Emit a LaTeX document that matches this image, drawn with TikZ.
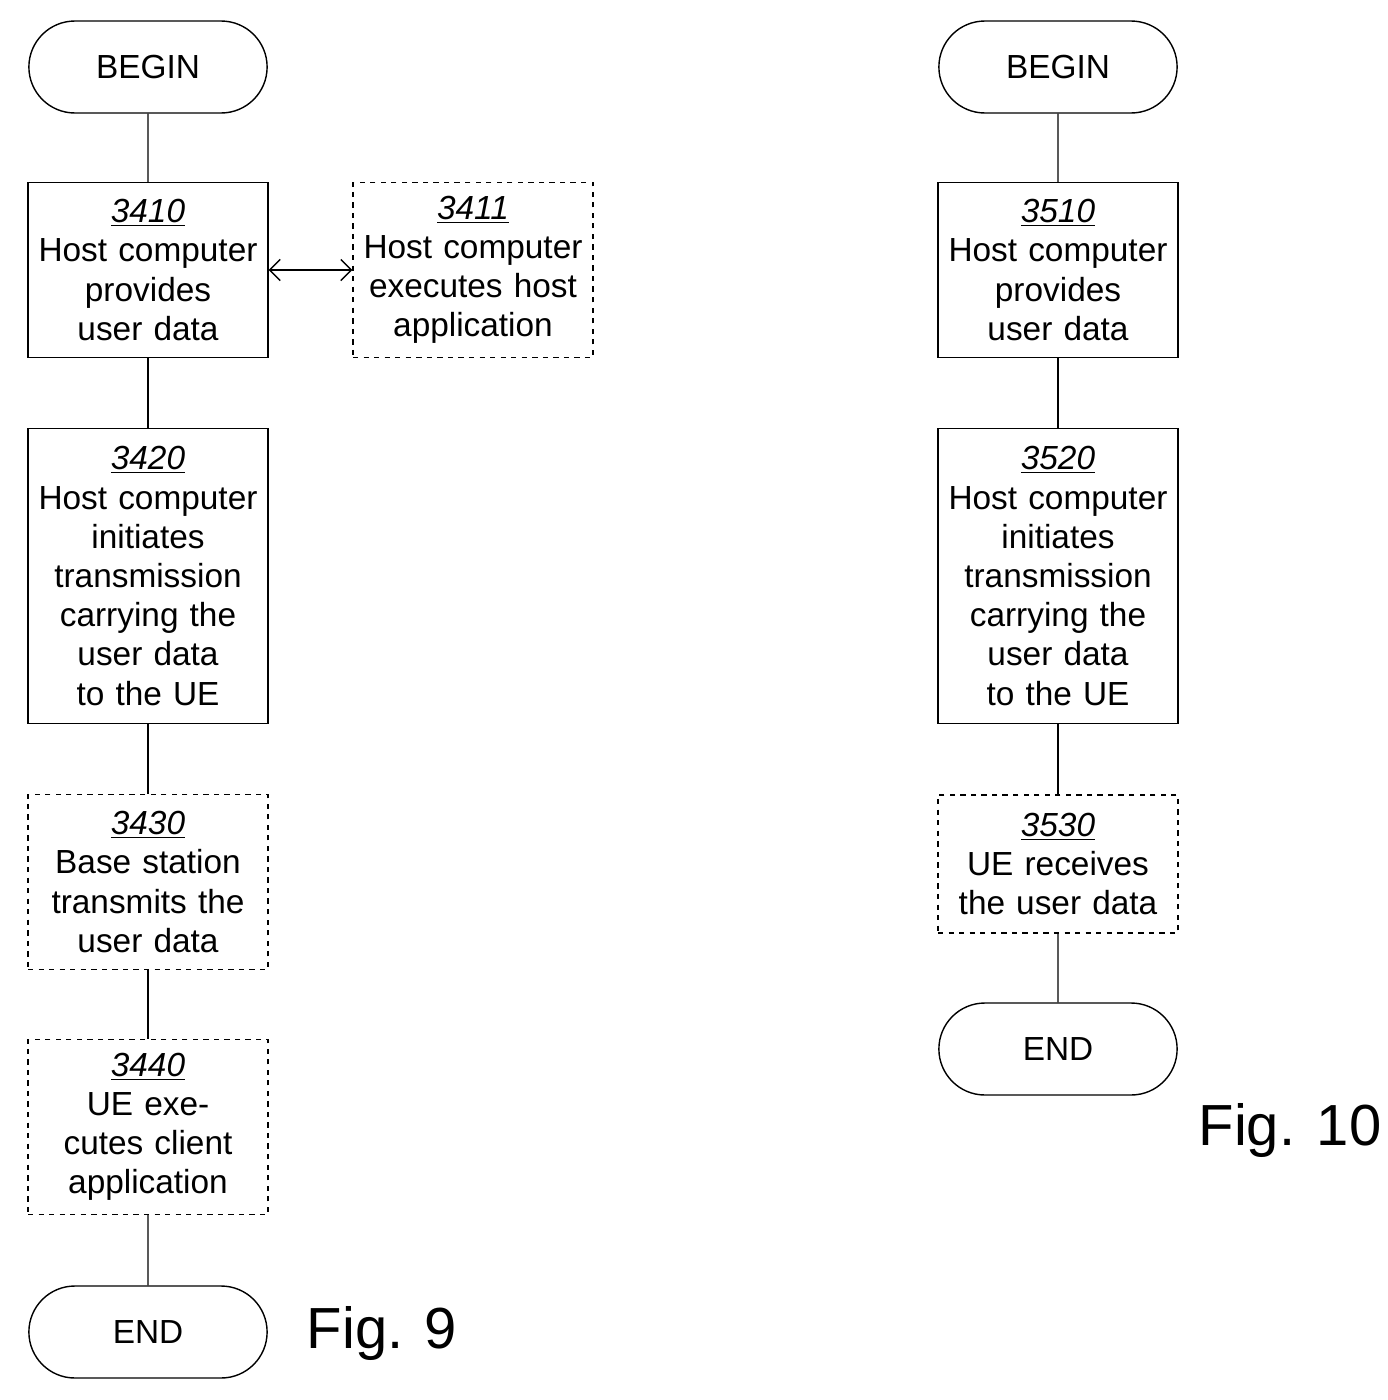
\documentclass[tikz,border=0pt]{standalone}
\usepackage{fontspec}
\setmainfont{Liberation Sans}
\usetikzlibrary{shapes.misc,arrows.meta}
\tikzset{
  flowstep/.style={draw, thick, rectangle, text width=4.8cm, align=center,
    inner sep=0pt, font=\fontsize{19pt}{22.3pt}\selectfont},
  optstep/.style={flowstep, dashed},
  term/.style={draw, thick, rounded rectangle, minimum width=5cm, minimum height=1.84cm,
    font=\fontsize{19pt}{22pt}\selectfont},
  figlabel/.style={font=\fontsize{33pt}{36pt}\selectfont}
}
\newcommand{\stepno}[1]{\underline{\textit{#1}}\\}
\begin{document}
\begin{tikzpicture}[x=0.02cm,y=-0.02cm]
  \useasboundingbox (0,0) rectangle (1387,1400);
  % Fig. 9
  \node[term] (b9) at (148,67) {BEGIN};
  \node[flowstep, minimum height=3.5cm] (s3410) at (148,270) {\stepno{3410}Host computer provides user data};
  \node[optstep, minimum height=3.5cm] (s3411) at (473,270) {\stepno{3411}Host computer executes host application};
  \node[flowstep, minimum height=5.9cm] (s3420) at (148,576) {\stepno{3420}Host computer initiates transmission carrying the user data to the UE};
  \node[optstep, minimum height=3.5cm] (s3430) at (148,882) {\stepno{3430}Base station transmits the user data};
  \node[optstep, minimum height=3.5cm] (s3440) at (148,1127) {\stepno{3440}UE executes client application};
  \node[term] (e9) at (148,1332) {END};
  \node[figlabel] (f9) at (382,1333) {Fig. 9};
  \draw[thick] (b9) -- (s3410);
  \draw[thick] (s3410) -- (s3420);
  \draw[thick] (s3420) -- (s3430);
  \draw[thick] (s3430) -- (s3440);
  \draw[thick] (s3440) -- (e9);
  \draw[thick, {Straight Barb[length=6pt]}-{Straight Barb[length=6pt]}] (s3410) -- (s3411);
  % Fig. 10
  \node[term] (b10) at (1058,67) {BEGIN};
  \node[flowstep, minimum height=3.5cm] (s3510) at (1058,270) {\stepno{3510}Host computer provides user data};
  \node[flowstep, minimum height=5.9cm] (s3520) at (1058,576) {\stepno{3520}Host computer initiates transmission carrying the user data to the UE};
  \node[optstep, minimum height=2.76cm] (s3530) at (1058,864) {\stepno{3530}UE receives the user data};
  \node[term] (e10) at (1058,1049) {END};
  \node[figlabel] (f10) at (1290,1130) {Fig. 10};
  \draw[thick] (b10) -- (s3510);
  \draw[thick] (s3510) -- (s3520);
  \draw[thick] (s3520) -- (s3530);
  \draw[thick] (s3530) -- (e10);
\end{tikzpicture}
\end{document}
